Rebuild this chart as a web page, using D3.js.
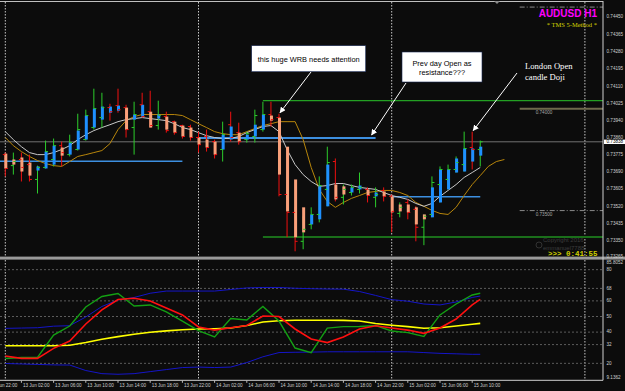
<!doctype html>
<html>
<head>
<meta charset="utf-8">
<title>AUDUSD H1</title>
<style>
    body { margin: 0; padding: 0; background: #0c0c0c; }
    svg { display: block; }
    text { font-family: "Liberation Sans", Arial, sans-serif; }
</style>
</head>
<body>
<svg id="chart" width="625" height="391"></svg>
<script src="https://d3js.org/d3.v7.min.js"></script>
<script>
// hourly bars, index 0 = 13 Jun 00:00
var openP = [0.73775,0.73721,0.73751,0.73726,0.73653,0.73712,0.73751,0.73819,0.73775,0.73800,
    0.73849,0.73908,0.73957,0.74006,0.74016,0.74006,0.73908,0.74020,0.73986,0.73918,
    0.73962,0.73937,0.73918,0.73913,0.73859,0.73864,0.73839,0.73800,0.73922,0.73883,
    0.73849,0.73864,0.73898,0.73972,0.73957,0.73579,0.73491,0.73349,0.73432,0.73481,
    0.73604,0.73741,0.73565,0.73589,0.73604,0.73604,0.73565,0.73599,0.73570,0.73486,
    0.73540,0.73506,0.73418,0.73481,0.73628,0.73653,0.73702,0.73726,0.73810,0.73800];
var highP = [0.73785,0.73785,0.73785,0.73775,0.73721,0.73844,0.73854,0.73839,0.73873,0.73976,
    0.73996,0.74099,0.74079,0.74025,0.74099,0.74020,0.74035,0.74079,0.74089,0.74040,
    0.73986,0.73942,0.73922,0.73922,0.73888,0.73898,0.73849,0.73937,0.73986,0.73932,
    0.73888,0.73996,0.74035,0.74035,0.73976,0.73604,0.73516,0.73472,0.73516,0.73668,
    0.73814,0.73756,0.73628,0.73628,0.73687,0.73614,0.73614,0.73614,0.73579,0.73540,
    0.73555,0.73521,0.73481,0.73668,0.73717,0.73726,0.73766,0.73888,0.73888,0.73844];
var lowP = [0.73668,0.73677,0.73643,0.73643,0.73584,0.73707,0.73717,0.73717,0.73766,0.73795,
    0.73844,0.73898,0.73908,0.73942,0.73981,0.73859,0.73775,0.73957,0.73908,0.73898,
    0.73883,0.73873,0.73854,0.73844,0.73785,0.73790,0.73756,0.73741,0.73839,0.73824,
    0.73834,0.73834,0.73888,0.73913,0.73570,0.73369,0.73300,0.73310,0.73408,0.73442,
    0.73521,0.73545,0.73530,0.73574,0.73584,0.73540,0.73516,0.73545,0.73393,0.73467,
    0.73457,0.73349,0.73330,0.73467,0.73540,0.73604,0.73687,0.73692,0.73702,0.73717];
var closeP = [0.73707,0.73741,0.73712,0.73653,0.73712,0.73790,0.73819,0.73785,0.73834,0.73898,
    0.73967,0.74001,0.74006,0.73986,0.73996,0.73898,0.73972,0.73962,0.73918,0.73967,
    0.73893,0.73883,0.73864,0.73859,0.73824,0.73810,0.73775,0.73873,0.73859,0.73839,
    0.73878,0.73967,0.73972,0.73947,0.73579,0.73491,0.73349,0.73408,0.73481,0.73623,
    0.73736,0.73565,0.73604,0.73614,0.73614,0.73574,0.73579,0.73570,0.73496,0.73516,
    0.73491,0.73418,0.73472,0.73638,0.73702,0.73702,0.73736,0.73805,0.73800,0.73838];
// heiken ashi bodies as drawn
var haOpen = [0.73780,0.73751,0.73761,0.73736,0.73697,0.73707,0.73726,0.73810,0.73775,0.73800,
    0.73849,0.73908,0.73947,0.73981,0.73991,0.74006,0.73947,0.73962,0.73986,0.73952,
    0.73962,0.73937,0.73918,0.73908,0.73859,0.73849,0.73839,0.73800,0.73849,0.73883,
    0.73849,0.73864,0.73898,0.73967,0.73957,0.73814,0.73653,0.73516,0.73432,0.73457,
    0.73521,0.73628,0.73619,0.73589,0.73604,0.73604,0.73570,0.73594,0.73570,0.73530,
    0.73530,0.73516,0.73481,0.73467,0.73540,0.73604,0.73687,0.73692,0.73741,0.73770];
var haClose = [0.73707,0.73726,0.73692,0.73672,0.73717,0.73790,0.73819,0.73770,0.73834,0.73893,
    0.73967,0.74001,0.74011,0.74011,0.74016,0.73898,0.73972,0.74020,0.73908,0.73972,
    0.73898,0.73883,0.73864,0.73859,0.73824,0.73810,0.73775,0.73873,0.73913,0.73839,
    0.73873,0.73922,0.73972,0.73942,0.73677,0.73496,0.73369,0.73393,0.73481,0.73619,
    0.73726,0.73555,0.73579,0.73614,0.73623,0.73574,0.73589,0.73570,0.73491,0.73496,
    0.73491,0.73432,0.73457,0.73614,0.73702,0.73702,0.73756,0.73805,0.73805,0.73814];

var maWhite = [0.73888,0.73849,0.73814,0.73785,0.73775,0.73775,0.73785,0.73800,0.73819,0.73849,
    0.73873,0.73893,0.73908,0.73922,0.73937,0.73947,0.73952,0.73957,0.73952,0.73947,
    0.73942,0.73927,0.73908,0.73898,0.73883,0.73868,0.73859,0.73854,0.73854,0.73864,
    0.73883,0.73898,0.73913,0.73918,0.73888,0.73800,0.73726,0.73677,0.73643,0.73619,
    0.73623,0.73633,0.73633,0.73623,0.73614,0.73609,0.73604,0.73589,0.73574,0.73565,
    0.73555,0.73535,0.73521,0.73535,0.73570,0.73599,0.73628,0.73663,0.73687,0.73712];
// shifted forward 3 bars
var maOrange = [0.73859,0.73819,0.73790,0.73766,0.73746,0.73731,0.73721,0.73717,0.73741,0.73766,
    0.73775,0.73785,0.73795,0.73829,0.73898,0.73942,0.73962,0.73972,0.73972,0.73972,
    0.73972,0.73972,0.73967,0.73947,0.73927,0.73908,0.73888,0.73878,0.73873,0.73873,
    0.73888,0.73903,0.73918,0.73927,0.73937,0.73937,0.73937,0.73849,0.73712,0.73604,
    0.73545,0.73516,0.73540,0.73560,0.73574,0.73589,0.73594,0.73599,0.73599,0.73589,
    0.73574,0.73540,0.73521,0.73501,0.73486,0.73481,0.73516,0.73574,0.73628,0.73672,
    0.73717,0.73741,0.73751];

// TDI sub window
var tdiBars = [0,2,4,6,8,10,12,14,16,18,20,22,24,26,28,30,32,34,36,38,40,42,44,46,48,50,52,54,56,58,59];
var rsiGreen = [23.1,23.7,23.8,38.1,43.9,56.1,62.8,64.7,56.7,57.4,52.9,47.1,41.0,36.9,48.7,47.8,
    56.4,47.1,29.8,26.9,42.6,43.5,43.6,44.2,40.7,39.7,37.2,51.0,58.0,63.8,64.9];
var signalRed = [24.7,23.2,23.2,29.6,34.3,45.2,54.2,60.9,61.7,59.9,55.4,51.0,43.3,41.3,42.8,44.2,
    50.3,50.0,42.0,35.6,33.3,36.9,42.0,44.1,42.6,41.3,39.2,42.6,48.4,57.4,61.0];
var baseYellow = [31.3,31.3,31.3,31.3,31.6,33.3,35.4,37.1,38.6,39.9,40.8,41.5,42.0,42.2,42.6,44.2,
    46.5,47.3,47.6,47.6,47.6,47.5,47.1,45.5,44.4,43.5,42.5,42.8,43.9,45.0,45.6];
var bandUp = [42.4,42.6,42.8,43.8,44.1,49.7,56.4,60.6,62.2,64.9,66.3,66.3,66.3,66.3,67.3,68.3,
    68.6,68.6,68.1,67.8,67.6,67.5,66.0,63.5,60.8,59.8,58.0,57.4,59.3,62.2,63.1];
var bandDown = [19.9,19.6,19.3,19.0,18.9,15.4,13.4,13.0,13.4,14.7,16.0,17.3,17.6,17.3,17.6,20.5,
    24.2,26.9,27.1,27.2,27.4,27.4,27.4,27.4,27.4,27.4,26.9,26.4,26.1,25.8,25.8];
var tdiLevels = [80, 68, 60, 50, 40, 32, 20];

// levels drawn on the chart
var dayOpenPrice = [0.73742, 0.73857, 0.73568];
var dayOpenFrom = [-1, 24, 48];
var dayOpenTo = [22, 46, 59];
var rangePrice = [0.74040, 0.73370];
var rangeFrom = 32;
var roundPrice = [0.74500, 0.74000, 0.73500];
var roundFrom = 63.9;
var bidPrice = 0.73838;
var dayBars = [0, 24, 48, 72];

var priceTicks = ["0.74450","0.74365","0.74280","0.74195","0.74110","0.74025","0.73940","0.73860",
    "0.73775","0.73690","0.73605","0.73520","0.73435","0.73350","0.73265"];
var tdiTicks = ["85.8052","80","68","60","50","40","32","20","9.1362"];
var timeBars = [-2,2,6,10,14,18,22,26,30,34,38,42,46,50,54,58];
var timeLabels = ["12 Jun 22:00","13 Jun 02:00","13 Jun 06:00","13 Jun 10:00","13 Jun 14:00",
    "13 Jun 18:00","13 Jun 22:00","14 Jun 02:00","14 Jun 06:00","14 Jun 10:00","14 Jun 14:00",
    "14 Jun 18:00","14 Jun 22:00","15 Jun 02:00","15 Jun 06:00","15 Jun 10:00"];

var plotRight = 603,
    mainTop = 2, mainBottom = 258,
    indTop = 260.6, indBottom = 380.3;

var x = d3.scaleLinear().domain([0, 72]).range([5.3, 5.3 + 72 * 8.05]);
var y = d3.scaleLinear().domain([0.73267, 0.74525]).range([mainBottom, mainTop]);
var yInd = d3.scaleLinear().domain([9.1362, 85.8052]).range([indBottom, indTop]);

var svg = d3.select("#chart");

svg.append("rect").attr("width", 625).attr("height", 391).attr("fill", "#0c0c0c");

var defs = svg.append("defs");
defs.append("clipPath").attr("id", "clipMain").append("rect")
    .attr("x", 0).attr("y", mainTop).attr("width", plotRight).attr("height", mainBottom - mainTop);
defs.append("clipPath").attr("id", "clipInd").append("rect")
    .attr("x", 0).attr("y", indTop).attr("width", plotRight).attr("height", indBottom - indTop);
defs.append("marker").attr("id", "arrowHead")
    .attr("viewBox", "0 0 10 10").attr("refX", 9).attr("refY", 5)
    .attr("markerWidth", 6).attr("markerHeight", 6).attr("markerUnits", "userSpaceOnUse")
    .attr("orient", "auto")
    .append("path").attr("d", "M0,0 L10,5 L0,10 z").attr("fill", "#ffffff");

// day separators
svg.selectAll(".sep").data(dayBars).enter().append("line")
    .attr("x1", function(d) { return x(d); }).attr("x2", function(d) { return x(d); })
    .attr("y1", mainTop).attr("y2", indBottom)
    .attr("stroke", "#c8c8c8").attr("stroke-width", 1).attr("stroke-dasharray", "1.5,1.5");

// ---------- main window ----------
var main = svg.append("g").attr("clip-path", "url(#clipMain)");

main.append("line")
    .attr("x1", 0).attr("x2", plotRight).attr("y1", y(bidPrice)).attr("y2", y(bidPrice))
    .attr("stroke", "#8a8a8a").attr("stroke-width", 0.8);

dayOpenPrice.forEach(function(p, k) {
    main.append("line")
        .attr("x1", x(dayOpenFrom[k])).attr("x2", x(dayOpenTo[k]))
        .attr("y1", y(p)).attr("y2", y(p))
        .attr("stroke", "#3d8fe0").attr("stroke-width", k == 1 ? 2 : 1.5);
});

rangePrice.forEach(function(p, k) {
    main.append("line")
        .attr("x1", x(rangeFrom)).attr("x2", plotRight)
        .attr("y1", y(p)).attr("y2", y(p))
        .attr("stroke", k == 0 ? "#23a023" : "#1a6e1a").attr("stroke-width", k == 0 ? 1.2 : 2);
});

roundPrice.forEach(function(p) {
    var solid = p == 0.74000;
    main.append("line")
        .attr("x1", x(roundFrom)).attr("x2", plotRight)
        .attr("y1", y(p)).attr("y2", y(p))
        .attr("stroke", solid ? "#6e6a4c" : "#8a8a8a")
        .attr("stroke-width", solid ? 2 : 1)
        .attr("stroke-dasharray", solid ? null : "5,2,1,2");
    if (p != 0.74500) {
        main.append("text")
            .attr("x", x(roundFrom) + 16).attr("y", y(p) + 5.5)
            .attr("font-size", "4.6px").attr("fill", "#a8a8a8")
            .text(p.toFixed(5));
    }
});

var maLine = d3.line()
    .x(function(d, i) { return x(i); })
    .y(function(d) { return y(d); });

main.append("path").attr("d", maLine(maOrange))
    .attr("fill", "none").attr("stroke", "#b8860b").attr("stroke-width", 1);
main.append("path").attr("d", maLine(maWhite))
    .attr("fill", "none").attr("stroke", "#c8c8c8").attr("stroke-width", 1);

var bars = main.selectAll(".bar")
    .data(d3.range(openP.length))
    .enter().append("g").attr("class", "bar");

function barColor(i) { return closeP[i] >= openP[i] ? "#2ccd2c" : "#f01010"; }

bars.append("line")
    .attr("x1", function(i) { return x(i); }).attr("x2", function(i) { return x(i); })
    .attr("y1", function(i) { return y(highP[i]); }).attr("y2", function(i) { return y(lowP[i]); })
    .attr("stroke", barColor)
    .attr("stroke-width", 1);

bars.append("rect")
    .attr("x", function(i) { return x(i) - 1; })
    .attr("width", 3)
    .attr("y", function(i) { return y(Math.max(haOpen[i], haClose[i])); })
    .attr("height", function(i) { return Math.max(1, Math.abs(y(haOpen[i]) - y(haClose[i]))); })
    .attr("fill", function(i) { return haClose[i] >= haOpen[i] ? "#1e90ff" : "#f9a07a"; });

bars.append("line")
    .attr("x1", function(i) { return x(i) - 2.5; }).attr("x2", function(i) { return x(i); })
    .attr("y1", function(i) { return y(openP[i]); }).attr("y2", function(i) { return y(openP[i]); })
    .attr("stroke", barColor);
bars.append("line")
    .attr("x1", function(i) { return x(i); }).attr("x2", function(i) { return x(i) + 2.5; })
    .attr("y1", function(i) { return y(closeP[i]); }).attr("y2", function(i) { return y(closeP[i]); })
    .attr("stroke", barColor);

// ---------- TDI window ----------
var ind = svg.append("g").attr("clip-path", "url(#clipInd)");

ind.selectAll(".lvl").data(tdiLevels).enter().append("line")
    .attr("x1", 0).attr("x2", plotRight)
    .attr("y1", function(d) { return yInd(d); }).attr("y2", function(d) { return yInd(d); })
    .attr("stroke", "#5c5c5c").attr("stroke-width", 1).attr("stroke-dasharray", "2,2");

var tdiLine = d3.line()
    .x(function(d, k) { return x(tdiBars[k]); })
    .y(function(d) { return yInd(d); });

[[bandUp, "#1515c8", 1], [bandDown, "#1515c8", 1], [baseYellow, "#ffff00", 1.6],
 [rsiGreen, "#13a013", 1.4], [signalRed, "#ff1010", 1.6]].forEach(function(s) {
    ind.append("path").attr("d", tdiLine(s[0]))
        .attr("fill", "none").attr("stroke", s[1]).attr("stroke-width", s[2]);
});

// ---------- frames ----------
svg.append("line").attr("x1", 0).attr("x2", plotRight).attr("y1", 1.5).attr("y2", 1.5)
    .attr("stroke", "#c0c0c0").attr("stroke-width", 1);
svg.append("rect").attr("x", 0).attr("y", 256.6).attr("width", plotRight + 22).attr("height", 3)
    .attr("fill", "#9a9a9a");
svg.append("line").attr("x1", 0).attr("x2", plotRight).attr("y1", indBottom).attr("y2", indBottom)
    .attr("stroke", "#d0d0d0").attr("stroke-width", 1);
svg.append("line").attr("x1", plotRight).attr("x2", plotRight).attr("y1", 1).attr("y2", indBottom)
    .attr("stroke", "#d0d0d0").attr("stroke-width", 1);
svg.append("path").attr("d", "M494,1 L500,1 L497,4 z").attr("fill", "#8a8a8a");

// price scale
svg.selectAll(".ptick").data(priceTicks).enter().append("text")
    .attr("x", 606.5).attr("y", function(d) { return Math.min(y(+d), 256.8); })
    .attr("dominant-baseline", "middle")
    .attr("font-size", "4.6px").attr("fill", "#cfcfcf")
    .text(function(d) { return d; });
svg.append("rect").attr("x", 604).attr("y", y(bidPrice) - 2.2).attr("width", 21).attr("height", 4.4)
    .attr("fill", "#ffffff");
svg.append("text").attr("x", 606.5).attr("y", y(bidPrice))
    .attr("dominant-baseline", "middle").attr("font-size", "4.6px").attr("fill", "#000")
    .text(bidPrice.toFixed(5));

svg.selectAll(".itick").data(tdiTicks).enter().append("text")
    .attr("x", 606.5).attr("y", function(d) { return Math.min(Math.max(yInd(+d), 262.4), 377.6); })
    .attr("dominant-baseline", "middle")
    .attr("font-size", "4.6px").attr("fill", "#cfcfcf")
    .text(function(d) { return d; });

// time scale
svg.selectAll(".ttick").data(timeBars).enter().append("line")
    .attr("x1", function(d) { return x(d); }).attr("x2", function(d) { return x(d); })
    .attr("y1", indBottom).attr("y2", indBottom + 2.5)
    .attr("stroke", "#bbbbbb");
svg.selectAll(".tlab").data(timeBars).enter().append("text")
    .attr("x", function(d) { return x(d) + 1.5; }).attr("y", 386.5)
    .attr("font-size", "4.6px").attr("fill", "#cfcfcf")
    .text(function(d, k) { return timeLabels[k]; });

// ---------- titles ----------
svg.append("text").attr("x", 597).attr("y", 16.5).attr("text-anchor", "end")
    .attr("font-size", "10px").attr("font-weight", "bold").attr("fill", "#ff00ff")
    .text("AUDUSD H1");
svg.append("text").attr("x", 597).attr("y", 26.5).attr("text-anchor", "end")
    .style("font-family", "'Liberation Serif', serif")
    .attr("font-size", "6.5px").attr("fill", "#d8d800")
    .text("* TMS 5-Method *");

svg.append("text").attr("x", 543).attr("y", 242).attr("font-size", "6px").attr("fill", "#3c3c3c")
    .text("Copyright 2016");
svg.append("text").attr("x", 543).attr("y", 249.5).attr("font-size", "6px").attr("fill", "#3c3c3c")
    .text("emmanuel7788");
svg.append("circle").attr("cx", 539).attr("cy", 245).attr("r", 3).attr("fill", "none")
    .attr("stroke", "#3c3c3c").attr("stroke-width", 0.8);
svg.append("text").attr("x", 548).attr("y", 256.3)
    .style("font-family", "'Liberation Mono', monospace")
    .attr("font-size", "7.5px").attr("font-weight", "bold").attr("fill", "#d0d000")
    .text(">>> 0:41:55");

// ---------- callouts ----------
function arrow(x1, y1, x2, y2) {
    svg.append("line").attr("x1", x1).attr("y1", y1).attr("x2", x2).attr("y2", y2)
        .attr("stroke", "#ffffff").attr("stroke-width", 1).attr("marker-end", "url(#arrowHead)");
}

svg.append("rect").attr("x", 251.7).attr("y", 45.7).attr("width", 114).attr("height", 26)
    .attr("fill", "#ffffff").attr("stroke", "#1a2a55").attr("stroke-width", 0.6);
svg.append("text").attr("x", 308.7).attr("y", 61.8).attr("text-anchor", "middle")
    .attr("font-size", "7.4px").attr("fill", "#000")
    .text("this huge WRB needs attention");
arrow(311, 72, x(34) + 1, y(highP[34]) - 1);

svg.append("rect").attr("x", 402).attr("y", 52).attr("width", 80).attr("height", 30)
    .attr("fill", "#ffffff").attr("stroke", "#1a2a55").attr("stroke-width", 0.6);
svg.append("text").attr("x", 442).attr("y", 66).attr("text-anchor", "middle")
    .attr("font-size", "7.4px").attr("fill", "#000").text("Prev day Open as");
svg.append("text").attr("x", 442).attr("y", 74.5).attr("text-anchor", "middle")
    .attr("font-size", "7.4px").attr("fill", "#000").text("resistance???");
arrow(406, 83, x(45.5), y(dayOpenPrice[1]) - 3);

svg.append("text").attr("x", 525).attr("y", 68.5)
    .style("font-family", "'Liberation Serif', serif")
    .attr("font-size", "8.6px").attr("fill", "#ffffff").text("London Open");
svg.append("text").attr("x", 525).attr("y", 79.5)
    .style("font-family", "'Liberation Serif', serif")
    .attr("font-size", "8.6px").attr("fill", "#ffffff").text("candle Doji");
arrow(517, 73, x(58) + 1, y(highP[58]) - 1);
</script>
</body>
</html>
